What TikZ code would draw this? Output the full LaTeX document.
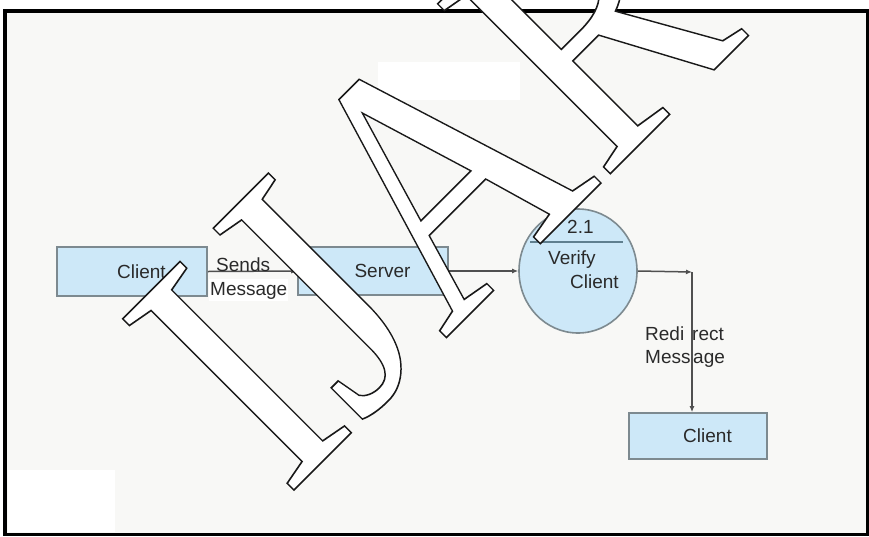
\documentclass[tikz,border=0pt]{standalone}
\usepackage{fontspec}
\setmainfont{Liberation Sans}
\newfontfamily\wmfont{Liberation Serif}
\usetikzlibrary{arrows.meta,calc,shapes.geometric}
\definecolor{boxfill}{HTML}{CDE8F8}
\definecolor{boxdraw}{HTML}{7D8A90}
\definecolor{txt}{HTML}{2A2A2A}
\definecolor{connc}{HTML}{505050}
\definecolor{bgc}{HTML}{F8F8F6}
\definecolor{divc}{HTML}{5F7F8F}
\begin{document}
\begin{tikzpicture}[x=1pt,y=-1pt,
  dfdbox/.style={draw=boxdraw, line width=1.6pt, fill=boxfill, inner sep=0pt,
    font=\fontsize{19}{22}\selectfont, text=txt},
  procbox/.style={ellipse, draw=boxdraw, line width=1.6pt, fill=boxfill, inner sep=0pt,
    minimum width=118pt, minimum height=124pt},
  lbl/.style={font=\fontsize{19}{22}\selectfont, text=txt, inner sep=0pt, anchor=base west},
  conn/.style={draw=connc, line width=1.5pt, -{Latex[length=6pt,width=5pt]}},
  wm/.style={font=\wmfont\fontsize{370}{370}\selectfont, inner sep=0pt, outer sep=0pt,
    anchor=base west, transform shape}
]
\useasboundingbox (0,0) rectangle (869,536);
% background
\fill[white] (0,0) rectangle (869,536);
\fill[bgc] (5,11) rectangle (867,534);
\fill[white] (378,62) rectangle (520,100);
\fill[white] (8,470) rectangle (115,532);
% frame
\draw[black, line width=3.5pt] (5,11) rectangle (867.5,534.5);

% nodes
\node[dfdbox, minimum width=150pt, minimum height=49pt] (client1) at (132,271.5) {\hspace*{19pt}Client};
\node[dfdbox, minimum width=150pt, minimum height=48pt] (server) at (373,271) {\hspace*{19pt}Server};
\node[procbox] (verify) at (578,271) {};
\node[dfdbox, minimum width=138pt, minimum height=46pt] (client2) at (698,436) {\hspace*{19pt}Client};
\coordinate (corner) at (692,272);

% connectors
\draw[conn] (client1.east) -- (server.west);
\draw[conn] (server.east) -- (verify.west);
\draw[conn] (verify.east) -- (corner);
\draw[conn] (corner) -- (corner |- client2.north);

% divider in process
\draw[draw=divc, line width=2pt] ($(verify.center)+(-48,-29)$) -- ($(verify.center)+(45,-29)$);

% labels
\node[lbl] (sends) at (216,271) {Sends};
\node[lbl, fill=white, inner xsep=1pt, inner ysep=2.5pt] (msg) at (209,295) {Message};
\node[lbl] (num) at (567,233) {2.1};
\node[lbl] (vf) at (548,264) {Verify};
\node[lbl] (vc) at (570,288) {Client};
\node[lbl] (redi) at (645,340) {Redi};
\node[lbl] (rect) at (692,340) {rect};
\node[lbl] (mess) at (645,363) {Mess};
\node[lbl] (age) at (693,363) {age};

% watermark: white letters with a thin dark outline
\begin{scope}
\clip (0,0) rectangle (869,536);
\begin{scope}[shift={(286,498)}, rotate=45, xscale=0.838]
  \node[wm, text=white] (wm) at (0,0)
    {\special{pdf:literal direct 2 Tr 1.6 w 0.1 G}IJARCS\special{pdf:literal direct 0 Tr}};
\end{scope}
\end{scope}
\end{tikzpicture}
\end{document}
